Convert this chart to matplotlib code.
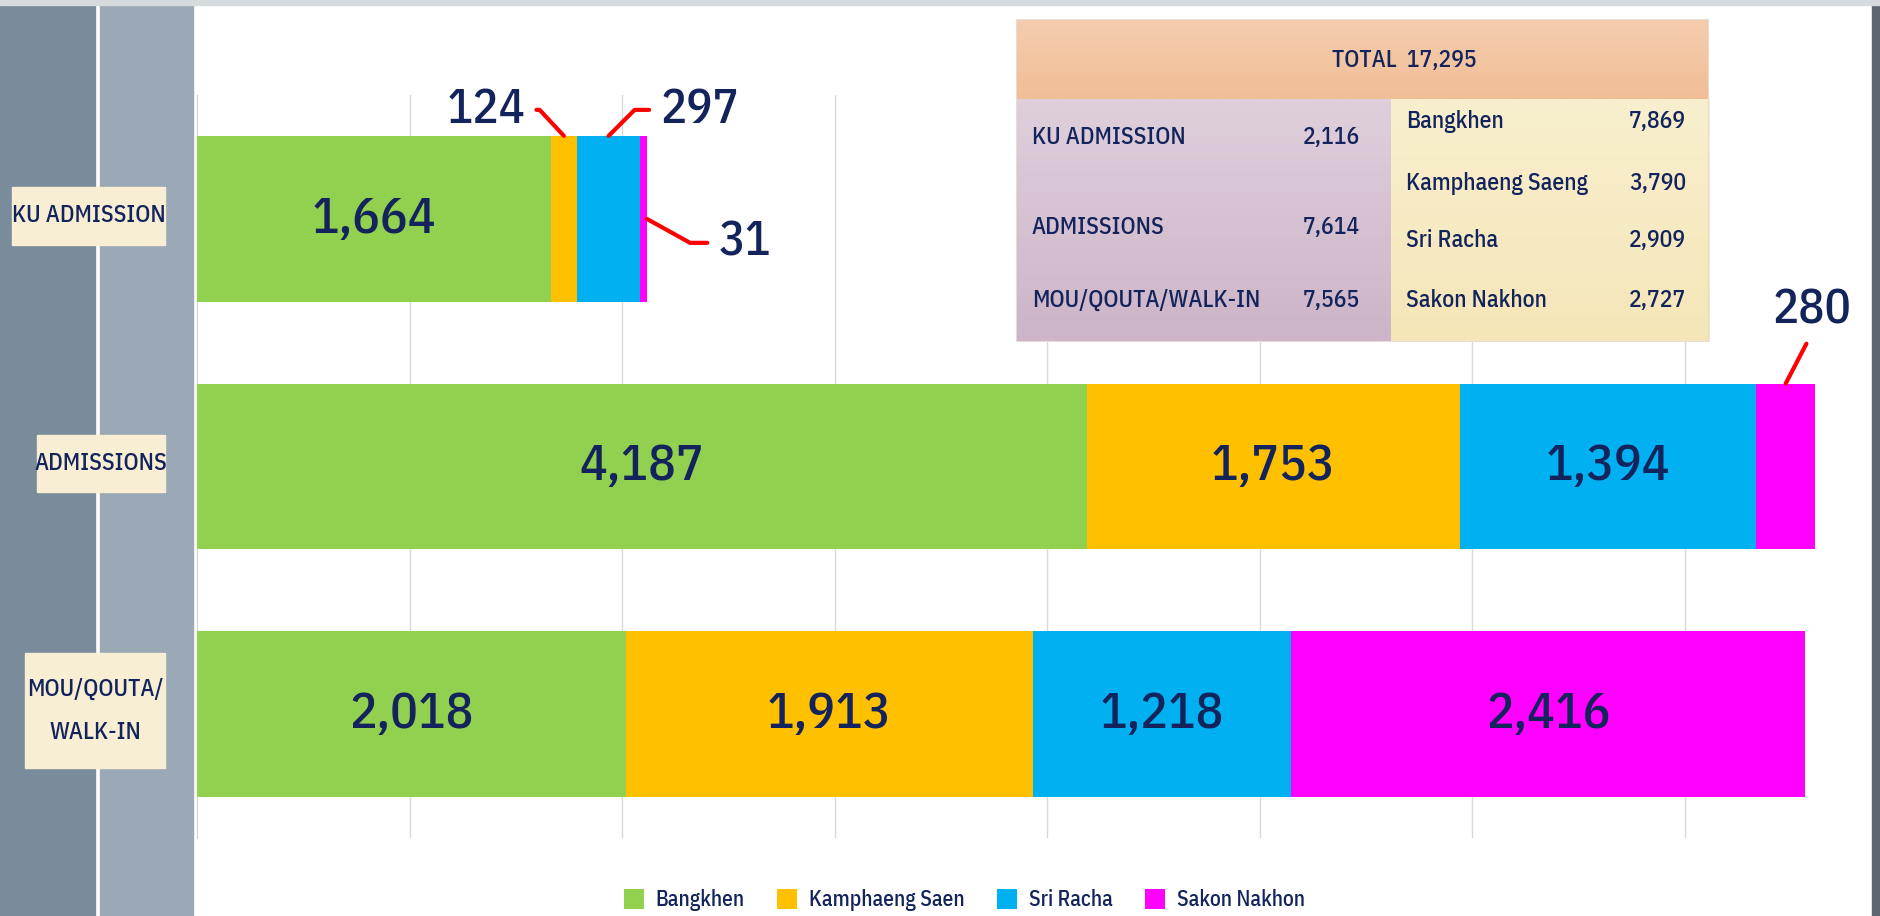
import numpy as np
import matplotlib
matplotlib.use("Agg")
import matplotlib.pyplot as plt
import matplotlib.transforms as mtransforms
from matplotlib.patches import Rectangle

plt.rcParams['font.family'] = ['IBM Plex Sans Condensed', 'Liberation Sans', 'DejaVu Sans']
plt.rcParams['font.weight'] = 'medium'

# data
categories = ["KU ADMISSION", "ADMISSIONS", "MOU/QOUTA/\nWALK-IN"]
campuses = ["Bangkhen", "Kamphaeng Saen", "Sri Racha", "Sakon Nakhon"]
bangkhen = [1664, 4187, 2018]
kamphaeng = [124, 1753, 1913]
sriracha = [297, 1394, 1218]
sakon = [31, 280, 2416]

total_label = "TOTAL  17,295"
type_names = ["KU ADMISSION", "ADMISSIONS", "MOU/QOUTA/WALK-IN"]
type_totals = ["2,116", "7,614", "7,565"]
campus_names = ["Bangkhen", "Kamphaeng Saeng", "Sri Racha", "Sakon Nakhon"]
campus_totals = ["7,869", "3,790", "2,909", "2,727"]

colors = ["#92D050", "#FFC000", "#00B0F0", "#FF00FF"]
navy = "#13235B"

W, H = 1880, 916
fig = plt.figure(figsize=(W / 100, H / 100), dpi=100)
fig.patch.set_facecolor("white")

def fx(px):
    return px / W

def fy(py):
    return 1 - py / H

# background strips
for x0, w, c in [(0, 95, "#7A8B9B"), (100, 93, "#9BA8B6"), (1872, 8, "#5B6670")]:
    fig.patches.append(Rectangle((fx(x0), 0), fx(w), 1, transform=fig.transFigure, color=c, zorder=-2))
fig.patches.append(Rectangle((0, fy(5)), 1, 1 - fy(5), transform=fig.transFigure, color="#D5DBDF", zorder=-2))

ax = fig.add_axes([fx(197), fy(838), fx(1872 - 197), (838 - 95) / H])
ax.set_facecolor("none")

series = [bangkhen, kamphaeng, sriracha, sakon]
y = np.arange(len(categories))
left = np.zeros(len(categories))
bars = []
for vals, c, name in zip(series, colors, campuses):
    b = ax.barh(y, vals, left=left, height=0.67, color=c, label=name, zorder=3)
    bars.append(b)
    for yi, v, l in zip(y, vals, left):
        if v >= 500:
            ax.text(l + v / 2, yi, f"{v:,}", ha="center", va="center",
                    fontsize=37, color=navy, zorder=4)
    left = left + np.array(vals)

ax.set_xlim(0, 7880)
ax.set_ylim(2.5, -0.5)
ax.set_xticks(np.arange(1000, 8000, 1000))
ax.set_xticklabels([])
ax.set_yticks([])
ax.tick_params(length=0)
ax.grid(axis="x", color="#D9D9D9", lw=1, zorder=0)
for s in ["top", "right", "bottom"]:
    ax.spines[s].set_visible(False)
ax.spines["left"].set_color("#D0D0D0")

# callouts for small segments
bar_h = 0.335
callouts = [
    (kamphaeng[0], (bangkhen[0] + kamphaeng[0] / 2, -bar_h), (-78, 26), (1, 0.5), "angle,angleA=0,angleB=133,rad=0"),
    (sriracha[0], (bangkhen[0] + kamphaeng[0] + sriracha[0] / 2, -bar_h), (91, 26), (0, 0.5), "angle,angleA=0,angleB=45,rad=0"),
    (sakon[0], (bangkhen[0] + kamphaeng[0] + sriracha[0] + sakon[0], 0), (98, -24), (0, 0.5), "angle,angleA=0,angleB=-29,rad=0"),
    (sakon[1], (bangkhen[1] + kamphaeng[1] + sriracha[1] + sakon[1] / 2, 1 - bar_h), (26, 73), (0.5, 0), "arc3"),
]
for v, xy, off, rp, cs in callouts:
    ax.annotate(f"{v:,}", xy=xy, xytext=off, textcoords="offset pixels",
                ha="center", va="center", fontsize=35, color=navy, zorder=5,
                arrowprops=dict(arrowstyle="-", color="#FF0000", lw=3,
                                relpos=rp, connectionstyle=cs,
                                shrinkA=6, shrinkB=0))

# category labels on the sidebar
trans = mtransforms.blended_transform_factory(fig.transFigure, ax.transData)
boxes = [(12, 165, 0.234), (37, 165, 0.23), (25, 165, 0.464)]
for yi, (lab, (bx0, bx1, bh)) in enumerate(zip(categories, boxes)):
    yc = yi - 0.013
    fig.patches.append(Rectangle((fx(bx0), yc - bh / 2), fx(bx1 - bx0), bh, transform=trans,
                                 color="#F8EED3", zorder=-1))
    fig.text(fx((bx0 + bx1) / 2), yc, lab, transform=trans, ha="center", va="center",
             fontsize=17, color=navy, linespacing=2.1)

# summary table
tab = fig.add_axes([fx(1016), fy(342), fx(1709 - 1016), (342 - 19) / H])
tab.set_xlim(0, 1)
tab.set_ylim(0, 1)
tab.axis("off")
div = 0.541
hdr = 0.752

def grad(x0, x1, y0, y1, ctop, cbot):
    c0 = np.array(matplotlib.colors.to_rgb(ctop))
    c1 = np.array(matplotlib.colors.to_rgb(cbot))
    t = np.linspace(0, 1, 64)[:, None]
    img = (c0 * (1 - t) + c1 * t)[:, None, :]
    tab.imshow(img, extent=(x0, x1, y0, y1), aspect="auto", origin="upper", zorder=1)

grad(0, 1, hdr, 1, "#F5CDAE", "#F1BE96")
grad(0, div, 0, hdr, "#DFCFDB", "#CDB4C8")
grad(div, 1, 0, hdr, "#F8EFCE", "#F5E6B8")
tab.add_patch(Rectangle((0, 0), 1, 1, fill=False, ec="#E6DCD6", lw=1.5, zorder=2))

fs = 17
tab.text(0.560, 0.873, total_label, ha="center", va="center", fontsize=fs, color=navy, zorder=3)
for yy, n, t in zip([0.632, 0.356, 0.130], type_names, type_totals):
    tab.text(0.023, yy, n, ha="left", va="center", fontsize=fs, color=navy, zorder=3)
    tab.text(0.496, yy, t, ha="right", va="center", fontsize=fs, color=navy, zorder=3)
for yy, n, t in zip([0.684, 0.492, 0.313, 0.127], campus_names, campus_totals):
    tab.text(0.563, yy, n, ha="left", va="center", fontsize=fs, color=navy, zorder=3)
    tab.text(0.967, yy, t, ha="right", va="center", fontsize=fs, color=navy, zorder=3)

# legend
fig.legend(handles=bars, labels=campuses, loc="center", bbox_to_anchor=(0.513, fy(900)),
           ncol=4, frameon=False, fontsize=15.5, handlelength=0.93, handleheight=1.07,
           handletextpad=0.55, columnspacing=1.5, labelcolor=navy)

fig.savefig("out.png", dpi=100)
